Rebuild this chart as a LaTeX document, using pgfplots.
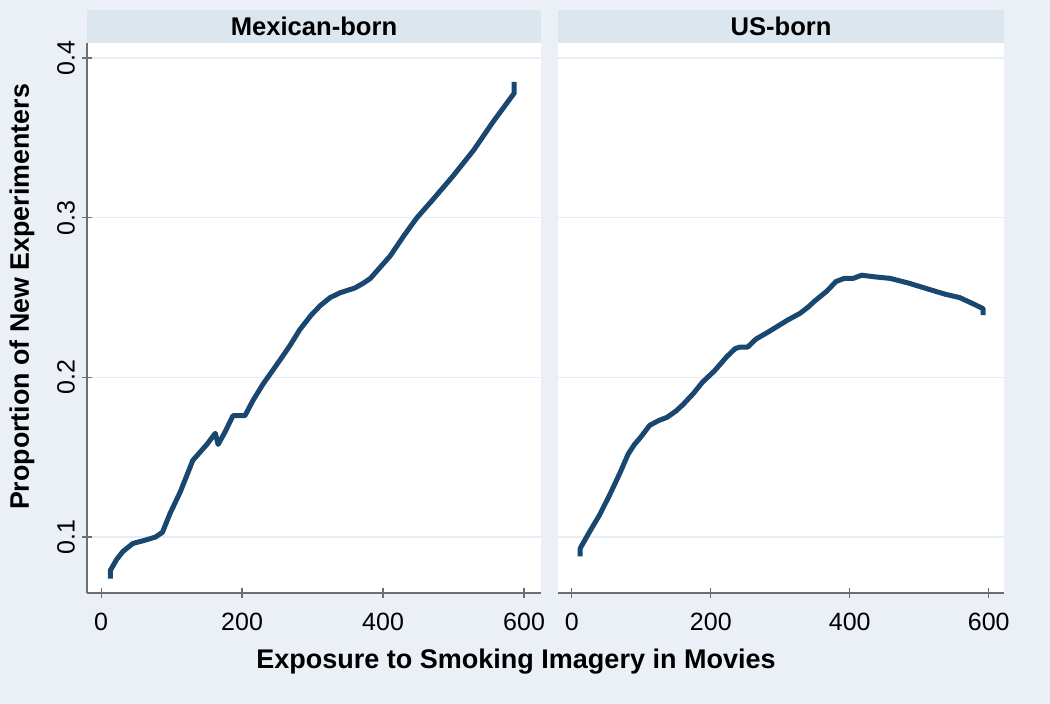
\documentclass[border=0pt]{standalone}
\usepackage{pgfplots}
\pgfplotsset{compat=1.18}
\usepackage{pgfplotstable}
\usepackage{fontspec}
\setmainfont{Liberation Sans}

\definecolor{outerbg}{RGB}{234,240,246}
\definecolor{stripbg}{RGB}{220,230,239}
\definecolor{stline}{RGB}{26,71,111}
\definecolor{gridc}{RGB}{232,236,244}
\definecolor{axisc}{RGB}{110,110,110}

% Mexican-born
\pgfplotstableread{
x y
13 0.074
13 0.079
22 0.086
31 0.091
45 0.096
62 0.098
77 0.100
87 0.103
98 0.115
112 0.128
122 0.139
130 0.148
140 0.153
150 0.158
162 0.165
166 0.158
176 0.166
187 0.176
204 0.176
216 0.186
230 0.196
254 0.211
268 0.220
282 0.230
298 0.239
311 0.245
325 0.250
339 0.253
360 0.256
372 0.259
382 0.262
396 0.269
410 0.276
430 0.289
448 0.300
470 0.311
499 0.326
528 0.342
556 0.360
586 0.378
586 0.385
}\mexborn

% US-born
\pgfplotstableread{
x y
12 0.088
12 0.093
25 0.103
40 0.114
55 0.127
69 0.140
81 0.152
90 0.158
98 0.162
112 0.170
125 0.173
137 0.175
150 0.179
160 0.183
175 0.190
188 0.197
205 0.204
223 0.213
235 0.218
242 0.219
253 0.219
265 0.224
281 0.228
296 0.232
311 0.236
328 0.240
340 0.244
350 0.248
367 0.254
380 0.260
392 0.262
405 0.262
417 0.264
435 0.263
458 0.262
485 0.259
515 0.255
538 0.252
558 0.250
578 0.246
592 0.243
592 0.239
}\usborn

\pgfplotsset{
  panel/.style={
    scale only axis,
    height=275pt,
    ymin=0.065, ymax=0.4094,
    xtick={0,200,400,600},
    ytick={0.1,0.2,0.3,0.4},
    ymajorgrids,
    major grid style={gridc, line width=0.6pt},
    tick align=outside,
    major tick length=5pt,
    axis background/.style={fill=white},
    axis x line=bottom, axis y line=left,
    axis line style={-, axisc, line width=0.6pt},
    tick style={axisc, line width=0.6pt},
    tick label style={font=\fontsize{12.5}{15}\selectfont},
    xticklabel style={yshift=-4pt},
    /pgf/number format/assume math mode=true,
    clip=false,
  },
  curve/.style={stline, line width=2.5pt, line join=round, no markers},
}

\begin{document}
\begin{tikzpicture}[font=\fontsize{12.5}{15}\selectfont]
\fill[outerbg] (0,0) rectangle (525pt,352pt);
\fill[stripbg] (43.5pt,330.5pt) rectangle (270.5pt,347pt);
\fill[stripbg] (279pt,330.5pt) rectangle (502pt,347pt);

\begin{axis}[panel, at={(43.5pt,55.5pt)}, anchor=south west,
  width=227pt, xmin=-20, xmax=624,
  yticklabels={0.1,0.2,0.3,0.4},
  yticklabel style={rotate=90, anchor=south}]
\addplot[curve] table[x=x, y=y] {\mexborn};
\end{axis}

\begin{axis}[panel, at={(279pt,55.5pt)}, anchor=south west,
  width=223pt, xmin=-20, xmax=622,
  yticklabels={},
  y axis line style={draw=none},
  ytick style={draw=none}]
\addplot[curve] table[x=x, y=y] {\usborn};
\end{axis}

\node[font=\bfseries\fontsize{12.8}{15}\selectfont] at (157pt,338.75pt) {Mexican-born};
\node[font=\bfseries\fontsize{12.8}{15}\selectfont] at (390.5pt,338.75pt) {US-born};
\node[font=\bfseries\fontsize{13.4}{15}\selectfont, rotate=90] at (11pt,203.5pt) {Proportion of New Experimenters};
\node[font=\bfseries\fontsize{13.5}{15}\selectfont] at (258pt,21pt) {Exposure to Smoking Imagery in Movies};
\end{tikzpicture}
\end{document}
